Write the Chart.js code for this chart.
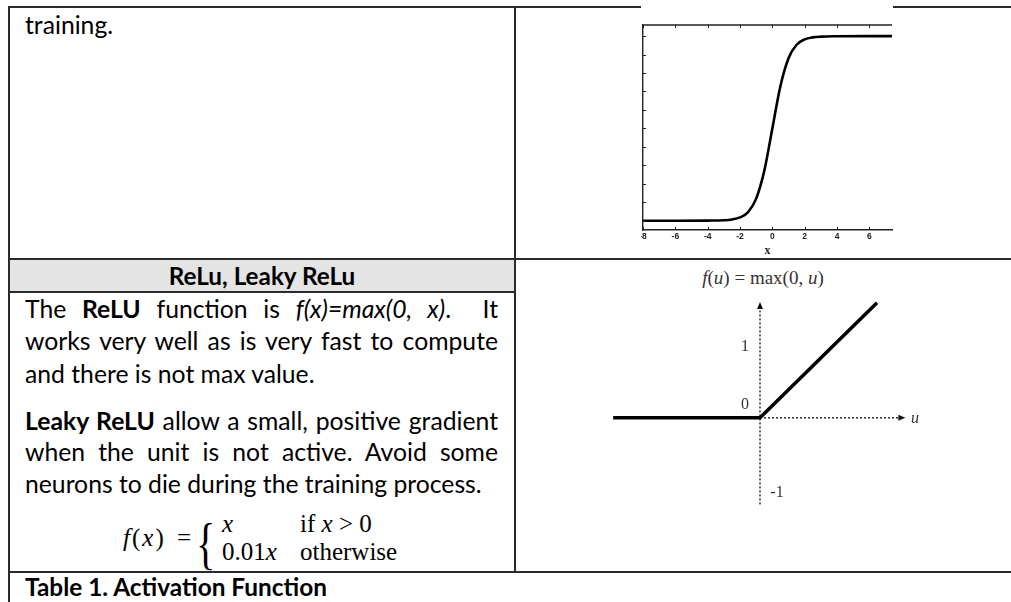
<!DOCTYPE html>
<html><head><meta charset="utf-8">
<script src="https://cdn.jsdelivr.net/npm/chart.js@4.4.0/dist/chart.umd.min.js"></script>
<style>
html,body{margin:0;padding:0;background:#fff;}
body{width:1011px;height:602px;position:relative;overflow:hidden;font-family:Lato,"Open Sans",sans-serif;color:#000;}
.ln{position:absolute;background:#2a2a30;}
.t{position:absolute;top:0;white-space:nowrap;line-height:1;}
.j{position:absolute;top:0;left:25px;width:473px;text-align:justify;text-align-last:justify;line-height:1;}
.m{font-family:"Liberation Serif","DejaVu Serif",serif;}
#sigWrap{position:absolute;left:641px;top:0;width:252px;height:256px;overflow:hidden;background:#fff;z-index:2;}
#sig{position:absolute;left:-41px;top:0;}
#relu{position:absolute;left:520px;top:262px;}
</style></head>
<body>
<!-- table grid -->
<div style="position:absolute;left:10px;top:260px;width:504px;height:31px;background:#e4e4e4"></div>
<div class="ln" style="left:8px;top:6px;width:1003px;height:2px"></div>
<div class="ln" style="left:8px;top:6px;width:2px;height:596px"></div>
<div class="ln" style="left:514px;top:6px;width:2px;height:567px"></div>
<div class="ln" style="left:8px;top:258px;width:1003px;height:2px"></div>
<div class="ln" style="left:8px;top:291px;width:508px;height:2px"></div>
<div class="ln" style="left:8px;top:571px;width:1003px;height:2px"></div>

<!-- left column text -->
<div class="t body" data-base="34" style="left:25px">training.</div>
<div class="t hdr" data-base="285" style="left:10px;width:504px;text-align:center;font-weight:bold">ReLu, Leaky ReLu</div>
<div class="j body" data-base="318">The <b>ReLU</b> function is <i>f(x)=max(0, x)</i>. &nbsp;It</div>
<div class="j body" data-base="350">works very well as is very fast to compute</div>
<div class="t body" data-base="382.5" style="left:25px">and there is not max value.</div>
<div class="j body" data-base="430"><b>Leaky ReLU</b> allow a small, positive gradient</div>
<div class="j body" data-base="461">when the unit is not active. Avoid some</div>
<div class="t body" data-base="492.5" style="left:25px">neurons to die during the training process.</div>

<!-- formula -->
<div class="t m" data-base="546" style="left:123px;font-size:25px;letter-spacing:2px"><i>f</i>(<i>x</i>)</div>
<div class="t m" data-base="546" style="left:177px;font-size:25px">=</div>
<div class="t m" data-base="563" style="left:196px;font-size:56px;transform:scaleX(0.72);transform-origin:left">{</div>
<div class="t m" data-base="532" style="left:222px;font-size:25px"><i>x</i></div>
<div class="t m" data-base="560" style="left:222px;font-size:25px">0.01<i>x</i></div>
<div class="t m" data-base="532" style="left:300px;font-size:25px">if <i>x</i> &gt; 0</div>
<div class="t m" data-base="560" style="left:300px;font-size:25px">otherwise</div>

<div class="t cap" data-base="596" style="left:25px;font-weight:bold">Table 1. Activation Function</div>

<!-- right column -->
<div id="sigWrap"><canvas id="sig" width="300" height="258"></canvas></div>
<div class="t m" data-base="284" style="left:663px;width:200px;text-align:center;font-size:19px;color:#333"><i>f</i>(<i>u</i>) = max(0, <i>u</i>)</div>
<canvas id="relu" width="480" height="305"></canvas>

<script>
// ---- data ----
const sigX = [-8, -6, -4, -3, -2.5, -2, -1.5, -1, -0.5, 0, 0.5, 1, 1.5, 2, 2.5, 3, 4, 6, 7.4];
const sigY = [0, 0, 0.001, 0.003, 0.007, 0.018, 0.047, 0.12, 0.27, 0.5, 0.73, 0.88, 0.953, 0.982, 0.993, 0.997, 0.999, 1, 1];
const sigXTicks = [-8, -6, -4, -2, 0, 2, 4, 6];
const sigYTicks = [0, 0.1, 0.2, 0.3, 0.4, 0.5, 0.6, 0.7, 0.8, 0.9, 1];
const sigXTitle = 'x';

const reluU = [-2.07, 0, 1.65];
const reluF = [0, 0, 1.62];
const reluYLabels = ['1', '0', '-1'];
const reluXLabel = 'u';

// ---- text fitting ----
const mctx = document.createElement('canvas').getContext('2d');
function fit(text, font, target){ mctx.font = font.replace('SZ','100px'); return 100*target/mctx.measureText(text).width; }
const fam = 'Lato';
const bodySize = (fit('neurons to die during the training process.', 'SZ '+fam, 457) + fit('and there is not max value.', 'SZ '+fam, 290))/2;
const hdrSize = fit('ReLu, Leaky ReLu', 'bold SZ '+fam, 187);
const capSize = fit('Table 1. Activation Function', 'bold SZ '+fam, 303);
document.querySelectorAll('.body').forEach(e=>e.style.fontSize=bodySize+'px');
document.querySelector('.hdr').style.fontSize=hdrSize+'px';
document.querySelector('.cap').style.fontSize=capSize+'px';
document.querySelectorAll('[data-base]').forEach(el=>{
  const m=document.createElement('span');
  m.style.cssText='display:inline-block;width:0;height:0;vertical-align:baseline;';
  el.insertBefore(m, el.firstChild);
  const off = m.getBoundingClientRect().top - el.getBoundingClientRect().top;
  el.style.top = (parseFloat(el.dataset.base) - off) + 'px';
});

// ---- sigmoid chart ----
const sigFrame = {
  id:'sigFrame',
  afterDatasetsDraw(chart){
    const {ctx, chartArea:a, scales:{x,y}} = chart;
    ctx.save();
    ctx.strokeStyle='#222'; ctx.lineWidth=1.3;
    ctx.beginPath(); ctx.moveTo(a.left, a.top); ctx.lineTo(a.right, a.top); ctx.stroke();
    ctx.lineWidth=1;
    sigXTicks.forEach(v=>{
      const px=Math.round(x.getPixelForValue(v))+0.5;
      ctx.beginPath(); ctx.moveTo(px,a.top); ctx.lineTo(px,a.top+3); ctx.stroke();
      ctx.beginPath(); ctx.moveTo(px,a.bottom); ctx.lineTo(px,a.bottom-3); ctx.stroke();
    });
    sigYTicks.forEach(v=>{
      const py=Math.round(y.getPixelForValue(v))+0.5;
      ctx.beginPath(); ctx.moveTo(a.left,py); ctx.lineTo(a.left+3,py); ctx.stroke();
    });
    ctx.restore();
  }
};
new Chart(document.getElementById('sig'), {
  type:'line',
  data:{datasets:[{data:sigX.map((v,i)=>({x:v,y:sigY[i]})), borderColor:'#000', borderWidth:2.6, pointRadius:0, cubicInterpolationMode:'monotone', fill:false}]},
  options:{
    responsive:false, animation:false, events:[],
    layout:{padding:{left:43,right:8,top:25,bottom:0}},
    plugins:{legend:{display:false}, tooltip:{enabled:false}},
    scales:{
      x:{type:'linear', min:-8, max:7.4,
         afterBuildTicks:s=>{s.ticks=sigXTicks.map(v=>({value:v}));},
         afterFit:s=>{s.height=28;},
         grid:{display:false, drawTicks:false},
         border:{display:true, color:'#222', width:1.6},
         ticks:{font:{family:'Liberation Sans', size:8.5, weight:'bold'}, color:'#222', padding:2, maxRotation:0, autoSkip:false},
         title:{display:true, text:sigXTitle, font:{family:'Liberation Serif', size:12, weight:'bold'}, color:'#222', padding:{top:0,bottom:0}}},
      y:{type:'linear', min:-0.05, max:1.06,
         afterFit:s=>{s.width=0;},
         grid:{display:false, drawTicks:false},
         border:{display:true, color:'#222', width:1.4},
         ticks:{display:false}}
    }
  },
  plugins:[sigFrame]
});

// ---- ReLU chart ----
const reluAxes = {
  id:'reluAxes',
  beforeDatasetsDraw(chart){
    const {ctx, scales:{x,y}} = chart;
    const x0=x.getPixelForValue(0), y0=y.getPixelForValue(0);
    const xEnd=x.getPixelForValue(2.05), yTop=y.getPixelForValue(1.63), yBot=y.getPixelForValue(-1.22);
    ctx.save();
    ctx.strokeStyle='#111'; ctx.lineWidth=1.3; ctx.setLineDash([2,2]);
    ctx.beginPath(); ctx.moveTo(x0,y0); ctx.lineTo(xEnd-6,y0); ctx.stroke();
    ctx.beginPath(); ctx.moveTo(x0,yBot); ctx.lineTo(x0,yTop+6); ctx.stroke();
    ctx.setLineDash([]); ctx.fillStyle='#111';
    ctx.beginPath(); ctx.moveTo(xEnd,y0); ctx.lineTo(xEnd-7,y0-3); ctx.lineTo(xEnd-7,y0+3); ctx.closePath(); ctx.fill();
    ctx.beginPath(); ctx.moveTo(x0,yTop); ctx.lineTo(x0-3,yTop+7); ctx.lineTo(x0+3,yTop+7); ctx.closePath(); ctx.fill();
    ctx.restore();
  },
  afterDraw(chart){
    const {ctx, scales:{x,y}} = chart;
    const x0=x.getPixelForValue(0), y0=y.getPixelForValue(0);
    ctx.save();
    ctx.fillStyle='#333'; ctx.textAlign='center'; ctx.textBaseline='middle';
    ctx.font='16px "Liberation Serif"';
    ctx.fillText(reluYLabels[0], x0-15, y.getPixelForValue(1));
    ctx.fillText(reluYLabels[1], x0-15, y0-13);
    ctx.fillText(reluYLabels[2], x0+17, y.getPixelForValue(-1)+4);
    ctx.font='italic 16px "Liberation Serif"';
    ctx.fillText(reluXLabel, x.getPixelForValue(2.2)-1, y0+1);
    ctx.restore();
  }
};
new Chart(document.getElementById('relu'), {
  type:'line',
  data:{datasets:[{data:reluU.map((u,i)=>({x:u,y:reluF[i]})), borderColor:'#000', borderWidth:3.5, pointRadius:0, tension:0, fill:false, borderCapStyle:'butt', borderJoinStyle:'miter'}]},
  options:{
    responsive:false, animation:false, events:[],
    layout:{padding:{left:84,right:84,top:28,bottom:64}},
    plugins:{legend:{display:false}, tooltip:{enabled:false}},
    scales:{ x:{type:'linear', display:false, min:-2.2, max:2.2}, y:{type:'linear', display:false, min:-1.2, max:1.8} }
  },
  plugins:[reluAxes]
});
</script>
</body></html>
